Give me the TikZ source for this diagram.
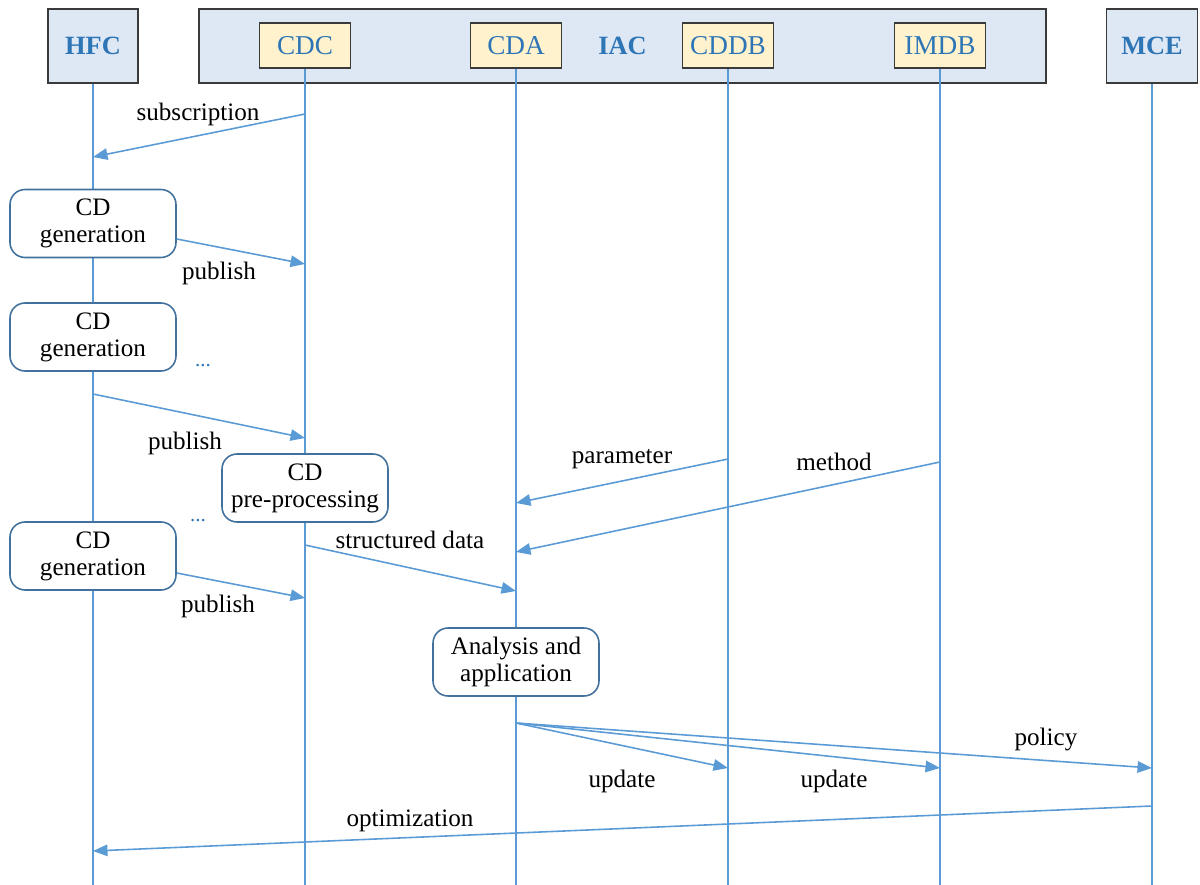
\documentclass[tikz,border=0pt]{standalone}
\usepackage{fontspec}
\setmainfont{Liberation Serif}
\usetikzlibrary{arrows.meta,positioning}
\definecolor{headfill}{HTML}{DEE8F5}
\definecolor{compfill}{HTML}{FFF2CC}
\definecolor{frame}{HTML}{3A3A3A}
\definecolor{lifeblue}{HTML}{5B9BD5}
\definecolor{boxblue}{HTML}{41719C}
\definecolor{textblue}{HTML}{2E75B6}
\tikzset{
  head/.style={draw=frame,fill=headfill,line width=1.1pt,minimum height=1.48cm,
    inner sep=0pt,text=textblue,font=\fontsize{15}{17}\selectfont\bfseries},
  comp/.style={draw=frame,fill=compfill,line width=1.1pt,minimum width=1.82cm,
    minimum height=0.9cm,inner sep=0pt,text=textblue,font=\fontsize{15.5}{17}\selectfont},
  act/.style={draw=boxblue,fill=white,line width=0.9pt,rounded corners=0.3cm,
    minimum width=3.32cm,minimum height=1.36cm,inner sep=0pt,align=center,
    font=\fontsize{14.3}{15.3}\selectfont},
  life/.style={draw=lifeblue,line width=0.8pt},
  msg/.style={draw=lifeblue,line width=0.9pt,-{Triangle[length=0.29cm,width=0.23cm]}},
  lbl/.style={inner sep=0pt,font=\fontsize{14.3}{15.3}\selectfont},
  dots/.style={inner sep=0pt,text=textblue,font=\fontsize{12}{14}\selectfont}
}
\begin{document}
\begin{tikzpicture}[x=0.02cm,y=-0.02cm]
\useasboundingbox (0,0) rectangle (1200,885);
% participants
\node[head,minimum width=1.8cm] (hfc) at (93,46) {HFC};
\node[head,minimum width=16.94cm] (iac) at (622.5,46) {IAC};
\node[head,minimum width=1.82cm] (mce) at (1152,46) {MCE};
\node[comp] (cdc) at (305,45.5) {CDC};
\node[comp] (cda) at (516,45.5) {CDA};
\node[comp] (cddb) at (728,45.5) {CDDB};
\node[comp] (imdb) at (940,45.5) {IMDB};
% lifelines
\foreach \p in {hfc,cdc,cda,cddb,imdb,mce}
  \draw[life] (\p.south) -- (\p |- 0,885);
% activities
\node[act] (gen1) at (93,223.5) {CD\\generation};
\node[act] (gen2) at (93,337) {CD\\generation};
\node[act] (prep) at (305,488) {CD\\pre-processing};
\node[act] (gen3) at (93,556) {CD\\generation};
\node[act] (ana) at (516,662) {Analysis and\\application};
\node[dots] (dots1) at (203,366) {...};
\node[dots] (dots2) at (198,521) {...};
% messages
\draw[msg] (cdc |- 0,114) -- (hfc |- 0,157);
\draw[msg] (gen1.east |- 0,239) -- (cdc |- 0,264);
\draw[msg] (hfc |- 0,394) -- (cdc |- 0,438);
\draw[msg] (gen3.east |- 0,573) -- (cdc |- 0,598);
\draw[msg] (prep |- 0,545) -- (cda |- 0,591);
\draw[msg] (cddb |- 0,459) -- (cda |- 0,503);
\draw[msg] (imdb |- 0,462) -- (cda |- 0,552);
\coordinate (fan) at (cda |- 0,723);
\draw[msg] (fan) -- (cddb |- 0,768);
\draw[msg] (fan) -- (imdb |- 0,768);
\draw[msg] (fan) -- (mce |- 0,768);
\draw[msg] (mce |- 0,806) -- (hfc |- 0,851);
% labels
\node[lbl] (l1) at (198,114) {subscription};
\node[lbl] (l2) at (219,273) {publish};
\node[lbl] (l3) at (185,443) {publish};
\node[lbl] (l4) at (218,606) {publish};
\node[lbl] (l5) at (410,540) {structured data};
\node[lbl] (l6) at (622,459) {parameter};
\node[lbl] (l7) at (834,462) {method};
\node[lbl] (l8) at (622,781) {update};
\node[lbl] (l9) at (834,781) {update};
\node[lbl] (l10) at (1046,739) {policy};
\node[lbl] (l11) at (410,821) {optimization};
\end{tikzpicture}
\end{document}
